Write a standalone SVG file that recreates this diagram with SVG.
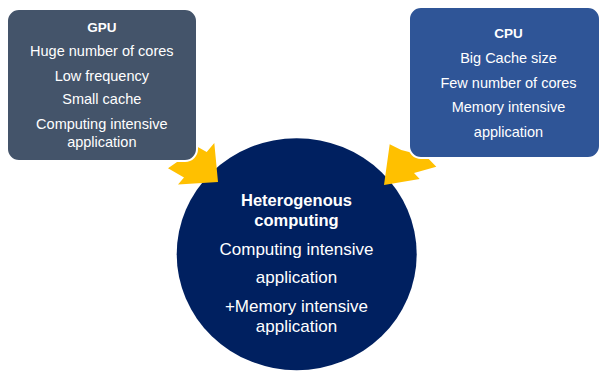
<svg xmlns="http://www.w3.org/2000/svg" width="604" height="371" viewBox="0 0 604 371">
<style>
  text { font-family: "Liberation Sans", Arial, sans-serif; fill: #FFFFFF; text-anchor: middle; }
  .box { font-size: 14.5px; }
  .big { font-size: 17px; }
  .hd { font-weight: bold; font-size: 13.5px; }
  .hd2 { font-weight: bold; font-size: 16.5px; }
  .arrow { fill: #FFC000; stroke: none; }
</style>
<rect x="0" y="0" width="604" height="371" fill="#FFFFFF"/>
<g id="hetero">
  <ellipse cx="296.7" cy="254.2" rx="120" ry="116" fill="#002060"/>
  <text class="hd2" x="296.5" y="206">Heterogenous</text>
  <text class="hd2" x="296.5" y="226">computing</text>
  <text class="big" x="296.5" y="255">Computing intensive</text>
  <text class="big" x="296.5" y="283.3">application</text>
  <text class="big" x="296.5" y="311.7">+Memory intensive</text>
  <text class="big" x="296.5" y="331.7">application</text>
</g>
<g id="connectors">
  <polygon class="arrow" points="198.3,147.3 206.7,152 214.3,143 218,182 178,184.5 184,177.5 168,168.3"/>
  <polygon class="arrow" points="410,152.3 401.3,150 389.7,144.3 384,185 419.7,179 414,173 436.3,166.7 420,150"/>
</g>
<g id="gpu">
  <rect x="7" y="9" width="190" height="152" rx="12" ry="12" fill="#44546A" stroke="#FFFFFF" stroke-width="2"/>
  <text class="hd" x="101.8" y="32.3">GPU</text>
  <text class="box" x="101.8" y="56">Huge number of cores</text>
  <text class="box" x="101.8" y="81">Low frequency</text>
  <text class="box" x="101.8" y="104.3">Small cache</text>
  <text class="box" x="101.8" y="129.3">Computing intensive</text>
  <text class="box" x="101.8" y="146.7">application</text>
</g>
<g id="cpu">
  <rect x="409" y="7" width="191" height="151" rx="12" ry="12" fill="#2F5597" stroke="#FFFFFF" stroke-width="2"/>
  <text class="hd" x="508.5" y="38.3">CPU</text>
  <text class="box" x="508.5" y="63.3">Big Cache size</text>
  <text class="box" x="508.5" y="87.7">Few number of cores</text>
  <text class="box" x="508.5" y="111.7">Memory intensive</text>
  <text class="box" x="508.5" y="136.7">application</text>
</g>
</svg>
